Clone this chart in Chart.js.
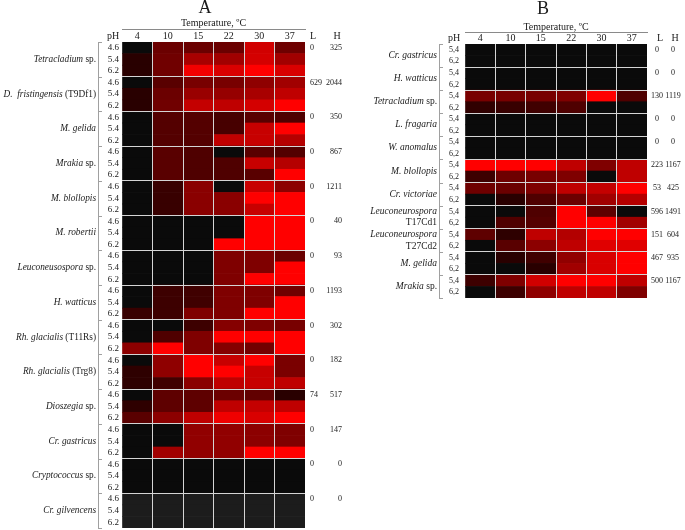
<!DOCTYPE html>
<html>
<head>
<meta charset="utf-8">
<script src="https://cdn.jsdelivr.net/npm/chart.js@4.4.0/dist/chart.umd.min.js"></script>
<style>
  body { margin: 0; background: #fff; }
  #wrap { position: relative; width: 685px; height: 530px; }
  canvas { position: absolute; top: 0; }
</style>
</head>
<body>
<div id="wrap">
  <canvas id="chart-a" width="350" height="530" style="left:0"></canvas>
  <canvas id="chart-b" width="335" height="530" style="left:350px"></canvas>
</div>
<script>
const temperatures = ['4', '10', '15', '22', '30', '37'];

// panel A: three pH levels per strain
const phA = ['4.6', '5.4', '6.2'];
const strainsA = [
  ['Tetracladium', ' sp.'], ['D.  fristingensis', ' (T9Df1)'], ['M. gelida', ''], ['Mrakia', ' sp.'],
  ['M. blollopis', ''], ['M. robertii', ''], ['Leuconeusospora', ' sp.'], ['H. watticus', ''],
  ['Rh. glacialis', ' (T11Rs)'], ['Rh. glacialis', ' (Trg8)'], ['Dioszegia', ' sp.'], ['Cr. gastricus', ''],
  ['Cryptococcus', ' sp.'], ['Cr. gilvencens', '']
];
const lowA = [0, 629, 0, 0, 0, 0, 0, 0, 0, 0, 74, 0, 0, 0];
const highA = [325, 2044, 350, 867, 1211, 40, 93, 1193, 302, 182, 517, 147, 0, 0];
// growth intensity 0-100 (red), rows = pH, columns = temperature
const growthA = [
  [[0, 42, 42, 42, 82, 43], [16, 44, 66, 63, 83, 63], [16, 44, 95, 85, 100, 85]],
  [[0, 35, 47, 47, 56, 63], [16, 42, 60, 59, 66, 75], [16, 44, 77, 75, 83, 100]],
  [[0, 33, 33, 28, 35, 31], [0, 33, 33, 28, 78, 100], [0, 33, 33, 75, 78, 71]],
  [[0, 35, 31, 0, 35, 33], [0, 35, 31, 31, 78, 71], [0, 35, 31, 31, 35, 100]],
  [[0, 22, 54, 0, 78, 55], [0, 22, 54, 54, 100, 100], [0, 22, 54, 54, 78, 100]],
  [[0, 0, 0, 0, 100, 100], [0, 0, 0, 0, 100, 100], [0, 0, 0, 100, 100, 100]],
  [[0, 0, 0, 50, 50, 42], [0, 0, 0, 50, 50, 100], [0, 0, 0, 50, 100, 100]],
  [[0, 24, 25, 50, 50, 44], [0, 24, 25, 50, 50, 100], [22, 24, 50, 50, 100, 100]],
  [[0, 0, 24, 52, 50, 47], [0, 31, 50, 100, 100, 100], [55, 100, 50, 52, 45, 100]],
  [[0, 56, 100, 78, 100, 48], [18, 56, 100, 100, 78, 48], [18, 25, 54, 75, 78, 75]],
  [[0, 37, 37, 42, 38, 16], [18, 37, 37, 75, 77, 75], [35, 55, 75, 94, 85, 100]],
  [[0, 0, 57, 57, 55, 50], [0, 0, 57, 57, 55, 50], [0, 63, 57, 57, 100, 100]],
  [[0, 0, 0, 0, 0, 0], [0, 0, 0, 0, 0, 0], [0, 0, 0, 0, 0, 0]],
  [[null, null, null, null, null, null], [null, null, null, null, null, null], [null, null, null, null, null, null]]
];

// panel B: two pH levels per strain
const phB = ['5,4', '6,2'];
const strainsB = [
  ['Cr. gastricus', ''], ['H. watticus', ''], ['Tetracladium', ' sp.'], ['L. fragaria', ''],
  ['W. anomalus', ''], ['M. blollopis', ''], ['Cr. victoriae', ''], ['Leuconeurospora', '\nT17Cd1'],
  ['Leuconeurospora', '\nT27Cd2'], ['M. gelida', ''], ['Mrakia', ' sp.']
];
const lowB = [0, 0, 130, 0, 0, 223, 53, 596, 151, 467, 500];
const highB = [0, 0, 1119, 0, 0, 1167, 425, 1491, 604, 935, 1167];
const growthB = [
  [[0, 0, 0, 0, 0, 0], [0, 0, 0, 0, 0, 0]],
  [[0, 0, 0, 0, 0, 0], [0, 0, 0, 0, 0, 0]],
  [[47, 47, 47, 50, 100, 31], [19, 22, 25, 31, 0, 0]],
  [[0, 0, 0, 0, 0, 0], [0, 0, 0, 0, 0, 0]],
  [[0, 0, 0, 0, 0, 0], [0, 0, 0, 0, 0, 0]],
  [[100, 100, 100, 75, 50, 75], [24, 43, 47, 50, 0, 75]],
  [[43, 42, 50, 75, 77, 100], [0, 16, 31, 42, 63, 71]],
  [[0, 0, 31, 100, 37, 0], [0, 31, 33, 100, 100, 63]],
  [[37, 18, 75, 70, 100, 100], [0, 35, 55, 75, 88, 88]],
  [[0, 16, 25, 57, 85, 100], [0, 0, 16, 63, 85, 100]],
  [[24, 50, 82, 100, 100, 75], [0, 24, 56, 75, 75, 50]]
];

Chart.defaults.font.family = '"Liberation Serif", "Times New Roman", serif';
Chart.defaults.color = '#1a1a1a';

function heat(v) {
  if (v === null) return 'rgb(28,28,28)';
  if (v === 0) return 'rgb(10,10,10)';
  return `rgb(${Math.round(v * 2.55)},0,0)`;
}

const SERIF = '"Liberation Serif", "Times New Roman", serif';

const annotate = {
  id: 'annotate',
  afterDraw(chart, args, o) {
    const { ctx, chartArea: area, scales: { y } } = chart;
    const rowH = y.getPixelForValue(1) - y.getPixelForValue(0);
    ctx.save();
    ctx.fillStyle = '#1a1a1a';
    ctx.textBaseline = 'middle';

    ctx.textAlign = 'center';
    ctx.font = `18px ${SERIF}`;
    ctx.fillText(o.letter, o.letterX, o.letterY);

    ctx.strokeStyle = '#8a8a8a';
    ctx.lineWidth = 1;
    ctx.beginPath();
    ctx.moveTo(area.left, o.ruleY + 0.5);
    ctx.lineTo(area.right + 1, o.ruleY + 0.5);
    ctx.stroke();

    const headY = area.top - 6;
    ctx.font = `10px ${SERIF}`;
    ctx.fillText('pH', o.phX, headY);
    ctx.fillText('L', o.lX, headY);
    ctx.fillText('H', o.hX, headY);

    // bracket
    ctx.strokeStyle = '#a0a0a0';
    ctx.beginPath();
    ctx.moveTo(o.bracketX + 0.5, area.top);
    ctx.lineTo(o.bracketX + 0.5, area.bottom);
    for (let g = 0; g <= o.names.length; g++) {
      const by = Math.round(area.top + g * o.per * rowH) + 0.5;
      ctx.moveTo(o.bracketX, by);
      ctx.lineTo(o.bracketX + 4, by);
    }
    ctx.stroke();

    o.names.forEach(([ital, rom], g) => {
      const first = y.getPixelForValue(g * o.per);
      const last = y.getPixelForValue(g * o.per + o.per - 1);
      const mid = (first + last) / 2;
      ctx.textAlign = 'left';
      if (rom.startsWith('\n')) {
        ctx.font = `italic ${o.nameSize}px ${SERIF}`;
        ctx.fillText(ital, o.nameRight - ctx.measureText(ital).width, mid - rowH / 2);
        ctx.font = `${o.nameSize}px ${SERIF}`;
        const r = rom.slice(1);
        ctx.fillText(r, o.nameRight - ctx.measureText(r).width, mid + rowH / 2);
      } else {
        ctx.font = `${o.nameSize}px ${SERIF}`;
        const wr = ctx.measureText(rom).width;
        ctx.font = `italic ${o.nameSize}px ${SERIF}`;
        const wi = ctx.measureText(ital).width;
        ctx.fillText(ital, o.nameRight - wr - wi, mid);
        ctx.font = `${o.nameSize}px ${SERIF}`;
        ctx.fillText(rom, o.nameRight - wr, mid);
      }

      ctx.font = `8px ${SERIF}`;
      ctx.textAlign = o.lAlign;
      ctx.fillText(String(o.low[g]), o.lValX, first);
      ctx.textAlign = o.hAlign;
      ctx.fillText(String(o.high[g]), o.hValX, first);
    });
    ctx.restore();
  }
};

function makePanel(canvasId, ph, growth, o) {
  const rows = growth.flat();
  const labels = growth.flatMap(() => ph);
  const per = ph.length;
  new Chart(document.getElementById(canvasId), {
    type: 'bar',
    data: {
      labels: labels,
      datasets: temperatures.map((t, c) => ({
        label: t,
        data: rows.map(() => 1),
        backgroundColor: rows.map(r => heat(r[c])),
        borderWidth: 0,
        barPercentage: 1,
        categoryPercentage: 1
      }))
    },
    options: {
      indexAxis: 'y',
      responsive: false,
      animation: false,
      events: [],
      layout: { autoPadding: false, padding: { left: 0, top: o.padTop, right: o.padRight, bottom: o.padBottom } },
      plugins: {
        legend: { display: false },
        tooltip: { enabled: false },
        annotate: Object.assign({ per: per }, o)
      },
      scales: {
        x: {
          type: 'linear',
          stacked: true,
          min: 0,
          max: 6,
          ticks: { display: false, stepSize: 1 },
          border: { display: false },
          grid: {
            z: 1,
            drawTicks: false,
            lineWidth: 1,
            color: ctx => (ctx.tick && ctx.tick.value > 0 && ctx.tick.value < 6) ? '#d4d4d4' : 'rgba(0,0,0,0)'
          },
          afterFit: s => { s.height = 0; s.paddingLeft = 0; s.paddingRight = 0; }
        },
        xTop: {
          type: 'category',
          axis: 'x',
          position: 'top',
          labels: temperatures,
          offset: true,
          grid: { display: false, drawTicks: false },
          border: { display: false },
          ticks: { padding: 0, font: { size: 10 }, maxRotation: 0 },
          title: { display: true, text: 'Temperature, ºC', font: { size: 10 }, padding: 0 },
          afterFit: s => { s.height = o.topH; s.paddingLeft = 0; s.paddingRight = 0; }
        },
        y: {
          type: 'category',
          stacked: true,
          offset: true,
          border: { display: false },
          ticks: { autoSkip: false, padding: o.tickPad, font: { size: o.phSize } },
          grid: {
            z: 1,
            offset: true,
            drawTicks: false,
            lineWidth: 1,
            color: ctx => (ctx.index > 0 && ctx.index % per === 0) ? '#d4d4d4' : 'rgba(0,0,0,0)'
          },
          afterFit: s => { s.width = o.axisW; s.paddingTop = 0; s.paddingBottom = 0; }
        }
      }
    },
    plugins: [annotate]
  });
}

makePanel('chart-a', phA, growthA, {
  names: strainsA, low: lowA, high: highA,
  padTop: 17, topH: 25, padRight: 45, padBottom: 2, axisW: 122, tickPad: 3, phSize: 9,
  letter: 'A', letterX: 205, letterY: 8, ruleY: 29,
  phX: 113, lX: 313, hX: 337,
  lValX: 310, lAlign: 'left', hValX: 342, hAlign: 'right',
  nameRight: 96, bracketX: 98, nameSize: 9.3
});

makePanel('chart-b', phB, growthB, {
  names: strainsB, low: lowB, high: highB,
  padTop: 21, topH: 23, padRight: 38, padBottom: 232, axisW: 115, tickPad: 6, phSize: 8,
  letter: 'B', letterX: 193, letterY: 9, ruleY: 32,
  phX: 104, lX: 310, hX: 325,
  lValX: 307, lAlign: 'center', hValX: 323, hAlign: 'center',
  nameRight: 87, bracketX: 89, nameSize: 9.5
});
</script>
</body>
</html>
